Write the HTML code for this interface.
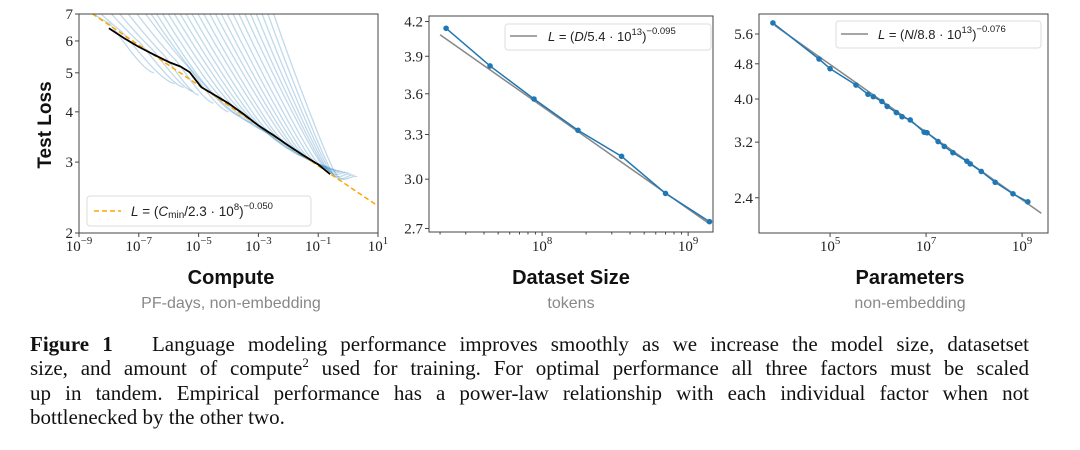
<!DOCTYPE html>
<html><head><meta charset="utf-8">
<style>
html,body{margin:0;padding:0;background:#fff;width:1080px;height:450px;overflow:hidden}
svg{position:absolute;left:0;top:0}
.cap{position:absolute;left:30px;top:332px;width:999px;font-family:"Liberation Serif",serif;font-size:21px;line-height:24.3px;color:#111}
.cap div{text-align:justify;text-align-last:justify;white-space:nowrap;overflow:visible}
.cap div.last{text-align-last:left}
text{font-family:"Liberation Serif",serif}
.sans{font-family:"Liberation Sans",sans-serif}
</style></head><body>
<svg id="fig" width="1080" height="450"></svg>
<div class="cap">
<div style="white-space:normal"><b>Figure 1</b>&nbsp;&nbsp; Language modeling performance improves smoothly as we increase the model size, datasetset</div>
<div style="white-space:normal">size, and amount of compute<sup style="font-size:13px;line-height:0">2</sup> used for training. For optimal performance all three factors must be scaled</div>
<div style="white-space:normal">up in tandem. Empirical performance has a power-law relationship with each individual factor when not</div>
<div class="last">bottlenecked by the other two.</div>
</div>
<script>
// ---- Compute panel data ----
const frontierLogC=[-8,-7.5,-7,-6.5,-6,-5.6,-5.3,-5.1,-4.9,-4.5,-4,-3.5,-3,-2.5,-2,-1.5,-1,-0.6];
const frontierLoss=[6.45,6.1,5.8,5.55,5.32,5.18,5.02,4.8,4.6,4.42,4.2,3.95,3.7,3.5,3.3,3.12,2.96,2.8];
const curveStartLogC=[-9,-8.6,-8.2,-7.9,-7.6,-7.3,-7.0,-6.8,-6.6,-6.4,-6.2,-6.0,-5.8,-5.6,-5.4,-5.2,-5.0,-4.8,-4.6,-4.4,-4.2,-4.0,-3.8,-3.6,-3.4,-3.2,-3.0,-2.8,-2.6];
const curveJoinLogC=[-8.2,-7.6,-7.0,-6.6,-6.2,-5.8,-5.4,-5.1,-4.8,-4.5,-4.2,-3.9,-3.6,-3.3,-3.0,-2.7,-2.5,-2.2,-2.0,-1.8,-1.6,-1.4,-1.2,-1.0,-0.9,-0.8,-0.7,-0.6,-0.5];
const curveEndLogC=[-6.5,-5.8,-5.5,-5.2,-5,-4.5,-4,-3.6,-3.2,-2.8,-2.5,-2.2,-2,-1.8,-1.5,-1.3,-1.1,-0.9,-0.7,-0.6,-0.5,-0.4,-0.3,-0.2,-0.1,0,0.1,0.2,0.3];
const curveEndLoss=[5.0,4.7,4.6,4.5,4.4,4.2,4.0,3.9,3.75,3.6,3.5,3.4,3.3,3.2,3.1,3.05,3.0,2.95,2.92,2.9,2.88,2.86,2.85,2.84,2.83,2.82,2.8,2.78,2.76];
const computeFitCoef=2.3e8, computeFitExp=0.050;
const computeXTicks=[-9,-7,-5,-3,-1,1];
const computeYTicks=[2,3,4,5,6,7];
// ---- Dataset panel data ----
const dataD=[2.2e7,4.4e7,8.8e7,1.76e8,3.5e8,7e8,1.4e9];
const dataLoss=[4.14,3.82,3.56,3.33,3.15,2.91,2.74];
const dataFitCoef=5.4e13, dataFitExp=0.095;
const dataYTicks=[2.7,3.0,3.3,3.6,3.9,4.2];
const dataXTicks=[8,9];
// ---- Params panel data ----
const paramLogN=[3.81,4.77,5.0,5.54,5.79,5.9,6.08,6.19,6.38,6.5,6.67,6.96,7.02,7.25,7.38,7.56,7.85,7.92,8.15,8.44,8.81,9.12];
const paramLoss=[5.93,4.92,4.68,4.3,4.1,4.05,3.95,3.85,3.73,3.65,3.59,3.37,3.36,3.21,3.13,3.03,2.9,2.86,2.75,2.6,2.45,2.35];
const paramFitCoef=8.8e13, paramFitExp=0.076;
const paramYTicks=[2.4,3.2,4.0,4.8,5.6];
const paramXTicks=[5,7,9];

const svg=document.getElementById('fig');
const NS='http://www.w3.org/2000/svg';
function mk(tag,attrs,parent){const e=document.createElementNS(NS,tag);for(const k in attrs)e.setAttribute(k,attrs[k]);(parent||svg).appendChild(e);return e;}
function sup(parent,x,y,base,exp,size,anchor){
  const t=mk('text',{x:x,y:y,'font-size':size,'text-anchor':anchor||'middle',fill:'#222'},parent);
  t.appendChild(document.createTextNode(base));
  const s=mk('tspan',{dy:-7,'font-size':size*0.72},t);s.textContent=exp;return t;}

function axesFactory(x0,x1,y0,y1,lx0,lx1,ly0,ly1){
  return {x:v=>x0+(v-lx0)/(lx1-lx0)*(x1-x0), y:v=>y1-(Math.log(v)-Math.log(ly0))/(Math.log(ly1)-Math.log(ly0))*(y1-y0),x0,x1,y0,y1};
}
// ===== Panel 1 =====
const A=axesFactory(79,378,14,233,-9,1,2,7);
const g1=mk('g',{});
const cp=mk('clipPath',{id:'c1'},g1);
mk('rect',{x:79,y:14,width:299,height:219},cp);
const pg=mk('g',{'clip-path':'url(#c1)'},g1);
function frontierAt(lc){for(let i=0;i<frontierLogC.length-1;i++){if(lc<=frontierLogC[i+1]){const t=(lc-frontierLogC[i])/(frontierLogC[i+1]-frontierLogC[i]);return Math.exp(Math.log(frontierLoss[i])*(1-t)+Math.log(frontierLoss[i+1])*t);}}return frontierLoss[frontierLoss.length-1];}
for(let i=0;i<curveStartLogC.length;i++){
  const sx=A.x(curveStartLogC[i]), sy=A.y(7.4);
  const jl=Math.max(curveJoinLogC[i],frontierLogC[0]);
  const jx=A.x(jl), jy=A.y(frontierAt(jl)*1.03);
  const ex=A.x(curveEndLogC[i]), ey=A.y(curveEndLoss[i]);
  const d=`M${sx},${sy} C${sx+(jx-sx)*0.4},${sy+(jy-sy)*0.45} ${jx-(jx-sx)*0.15},${jy-(jy-sy)*0.12} ${jx},${jy} S${ex-(ex-jx)*0.3},${ey-3} ${ex},${ey}`;
  const p=mk('path',{d:d,fill:'none',stroke:'#1f77b4','stroke-opacity':0.28,'stroke-width':1.3},pg);
  
  
}
let fd='';for(let k=0;k<=40;k++){const lc=-9+k*10/40;const L=Math.pow(Math.pow(10,lc)/computeFitCoef,-computeFitExp);fd+=(k?'L':'M')+A.x(lc)+','+A.y(L);}
mk('path',{d:fd,fill:'none',stroke:'#ffa500','stroke-width':1.5,'stroke-dasharray':'5,3',},pg);
let bd='';frontierLogC.forEach((lc,i)=>{bd+=(i?'L':'M')+A.x(lc)+','+A.y(frontierLoss[i]);});
mk('path',{d:bd,fill:'none',stroke:'#000','stroke-width':1.8,'stroke-linejoin':'round',},pg);
mk('rect',{x:79,y:14,width:299,height:219,fill:'none',stroke:'#444','stroke-width':1,},g1);
computeYTicks.forEach(v=>{const y=A.y(v);mk('line',{x1:75,x2:79,y1:y,y2:y,stroke:'#444'},g1);const t=mk('text',{x:73,y:y+5,'font-size':15,'text-anchor':'end',fill:'#222',},g1);t.textContent=v;});
computeXTicks.forEach(v=>{const x=A.x(v);mk('line',{x1:x,x2:x,y1:233,y2:237,stroke:'#444'},g1);sup(g1,x,251,'10',v<0?'−'+(-v):v,15);});
mk('rect',{x:87,y:196,width:224,height:30,rx:3,fill:'#fff','fill-opacity':0.85,stroke:'#ddd',},g1);
mk('line',{x1:94,x2:121,y1:211,y2:211,stroke:'#ffa500','stroke-width':1.5,'stroke-dasharray':'5,3'},g1);
{const t=mk('text',{x:131,y:216,'font-size':13.5,class:'sans',fill:'#222',},g1);
t.innerHTML='<tspan font-style="italic">L</tspan> = (<tspan font-style="italic">C</tspan><tspan font-size="10" dy="2">min</tspan><tspan dy="-2">/2.3 · 10</tspan><tspan font-size="9.5" dy="-6">8</tspan><tspan dy="6">)</tspan><tspan font-size="9.5" dy="-7">−0.050</tspan>';}
{const t=mk('text',{x:0,y:0,'font-size':19,'font-weight':'bold',class:'sans','text-anchor':'middle',fill:'#111',transform:'translate(51,125) rotate(-90)',},g1);t.textContent='Test Loss';}

// ===== Panel 2 =====
const B=axesFactory(429,713,16,232,Math.log10(1.68e7),Math.log10(1.48e9),2.68,4.25);
const g2=mk('g',{});
const lx=v=>B.x(Math.log10(v));
let f2='';[2e7,1.4e9].forEach((d,i)=>{f2+=(i?'L':'M')+lx(d)+','+B.y(Math.pow(d/dataFitCoef,-dataFitExp));});
mk('path',{d:f2,stroke:'#888','stroke-width':1.5,fill:'none',},g2);
let d2='';dataD.forEach((d,i)=>{d2+=(i?'L':'M')+lx(d)+','+B.y(dataLoss[i]);});
mk('path',{d:d2,stroke:'#1f77b4','stroke-width':1.5,fill:'none',},g2);
dataD.forEach((d,i)=>{const c=mk('circle',{cx:lx(d),cy:B.y(dataLoss[i]),r:2.8,fill:'#1f77b4'},g2);});
mk('rect',{x:429,y:16,width:284,height:216,fill:'none',stroke:'#444',},g2);
dataYTicks.forEach(v=>{const y=B.y(v);mk('line',{x1:425,x2:429,y1:y,y2:y,stroke:'#444'},g2);const t=mk('text',{x:423,y:y+5,'font-size':15,'text-anchor':'end',fill:'#222',},g2);t.textContent=v.toFixed(1);});
for(let e=7;e<=9;e++)for(let m=1;m<10;m++){const v=m*Math.pow(10,e);const x=lx(v);if(x<429||x>713)continue;mk('line',{x1:x,x2:x,y1:232,y2:m==1?236:234.5,stroke:'#444'},g2);}
dataXTicks.forEach(v=>{sup(g2,lx(Math.pow(10,v)),251,'10',v,15);});
mk('rect',{x:505,y:24,width:206,height:26,rx:3,fill:'#fff',stroke:'#ddd',},g2);
mk('line',{x1:510,x2:537,y1:36,y2:36,stroke:'#888','stroke-width':1.5},g2);
{const t=mk('text',{x:548,y:41,'font-size':13,class:'sans',fill:'#222',},g2);
t.innerHTML='<tspan font-style="italic">L</tspan> = (<tspan font-style="italic">D</tspan>/5.4 · 10<tspan font-size="9.5" dy="-6">13</tspan><tspan dy="6">)</tspan><tspan font-size="9.5" dy="-7">−0.095</tspan>';}

// ===== Panel 3 =====
const C=axesFactory(759,1048,14,233,3.52,9.54,2.0,6.21);
const g3=mk('g',{});
let f3='';[3.85,9.4].forEach((lg,i)=>{f3+=(i?'L':'M')+C.x(lg)+','+C.y(Math.pow(Math.pow(10,lg)/paramFitCoef,-paramFitExp));});
mk('path',{d:f3,stroke:'#888','stroke-width':1.5,fill:'none',},g3);
let d3='';paramLogN.forEach((lg,i)=>{d3+=(i?'L':'M')+C.x(lg)+','+C.y(paramLoss[i]);});
mk('path',{d:d3,stroke:'#1f77b4','stroke-width':1.5,fill:'none',},g3);
paramLogN.forEach((lg,i)=>{const c=mk('circle',{cx:C.x(lg),cy:C.y(paramLoss[i]),r:2.8,fill:'#1f77b4'},g3);});
mk('rect',{x:759,y:14,width:289,height:219,fill:'none',stroke:'#444',},g3);
paramYTicks.forEach(v=>{const y=C.y(v);mk('line',{x1:755,x2:759,y1:y,y2:y,stroke:'#444'},g3);const t=mk('text',{x:753,y:y+5,'font-size':15,'text-anchor':'end',fill:'#222',},g3);t.textContent=v.toFixed(1);});
paramXTicks.forEach(v=>{const x=C.x(v);mk('line',{x1:x,x2:x,y1:233,y2:237,stroke:'#444'},g3);sup(g3,x,251,'10',v,15);});
mk('rect',{x:836,y:21,width:205,height:27,rx:3,fill:'#fff',stroke:'#ddd',},g3);
mk('line',{x1:841,x2:868,y1:34,y2:34,stroke:'#888','stroke-width':1.5},g3);
{const t=mk('text',{x:878,y:39,'font-size':13,class:'sans',fill:'#222',},g3);
t.innerHTML='<tspan font-style="italic">L</tspan> = (<tspan font-style="italic">N</tspan>/8.8 · 10<tspan font-size="9.5" dy="-6">13</tspan><tspan dy="6">)</tspan><tspan font-size="9.5" dy="-7">−0.076</tspan>';}

[[231,'Compute','PF-days, non-embedding','compute'],[571,'Dataset Size','tokens','dataset'],[910,'Parameters','non-embedding','params']].forEach(a=>{
  const t=mk('text',{x:a[0],y:284,'font-size':20,'font-weight':'bold',class:'sans','text-anchor':'middle',fill:'#111'});t.textContent=a[1];
  
  const s=mk('text',{x:a[0],y:308,'font-size':16,class:'sans','text-anchor':'middle',fill:'#888'});s.textContent=a[2];
  
});
</script>
</body></html>
